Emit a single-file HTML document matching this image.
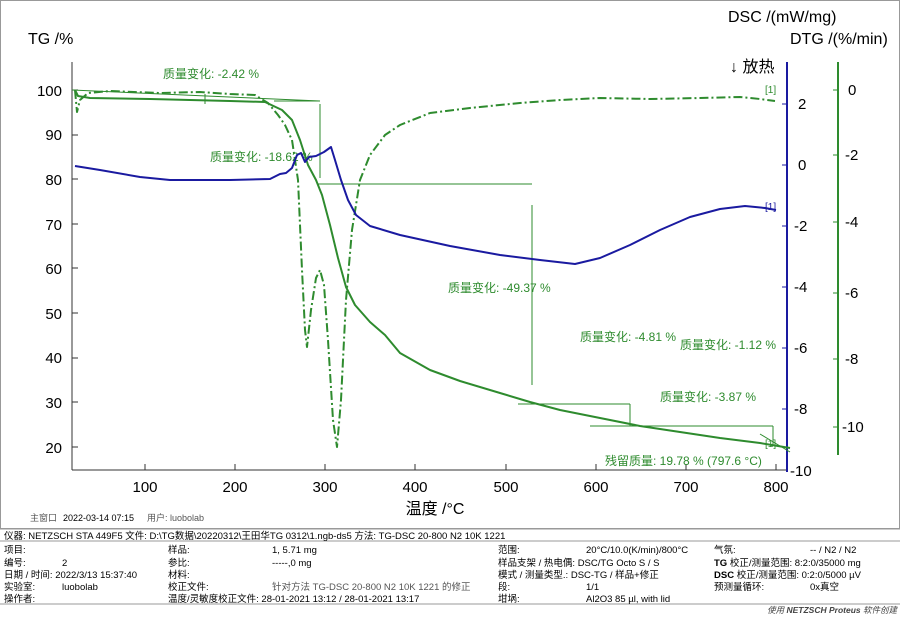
<!DOCTYPE html>
<html><head><meta charset="utf-8"><style>
body{margin:0;background:#fff;}
svg{display:block;font-family:"Liberation Sans","Noto Sans CJK SC",sans-serif;}
</style></head><body>
<svg width="900" height="617" viewBox="0 0 900 617" xmlns="http://www.w3.org/2000/svg">
<rect width="900" height="617" fill="#fff"/>
<rect x="0.5" y="0.5" width="899" height="528" fill="none" stroke="#999"/>
<text x="28" y="44" font-size="16">TG /%</text>
<text x="728" y="22" font-size="16">DSC /(mW/mg)</text>
<text x="790" y="44" font-size="16">DTG /(%/min)</text>
<text x="730" y="72" font-size="16">↓ 放热</text>
<g stroke="#333" stroke-width="1">
<line x1="72" y1="62" x2="72" y2="470"/>
<line x1="72" y1="470" x2="786" y2="470"/>
</g>
<g font-size="15" text-anchor="end" fill="#000">
<text x="62" y="96">100</text><text x="62" y="140">90</text><text x="62" y="185">80</text>
<text x="62" y="230">70</text><text x="62" y="274">60</text><text x="62" y="319">50</text>
<text x="62" y="363">40</text><text x="62" y="408">30</text><text x="62" y="453">20</text>
</g>
<g stroke="#333">
<line x1="72" y1="90" x2="78" y2="90"/><line x1="72" y1="135" x2="78" y2="135"/><line x1="72" y1="179" x2="78" y2="179"/><line x1="72" y1="224" x2="78" y2="224"/><line x1="72" y1="268" x2="78" y2="268"/><line x1="72" y1="313" x2="78" y2="313"/><line x1="72" y1="358" x2="78" y2="358"/><line x1="72" y1="402" x2="78" y2="402"/><line x1="72" y1="447" x2="78" y2="447"/>
<line x1="145" y1="470" x2="145" y2="464"/><line x1="235" y1="470" x2="235" y2="464"/><line x1="325" y1="470" x2="325" y2="464"/><line x1="415" y1="470" x2="415" y2="464"/><line x1="506" y1="470" x2="506" y2="464"/><line x1="596" y1="470" x2="596" y2="464"/><line x1="686" y1="470" x2="686" y2="464"/><line x1="776" y1="470" x2="776" y2="464"/>
</g>
<g font-size="15" text-anchor="middle">
<text x="145" y="492">100</text><text x="235" y="492">200</text><text x="325" y="492">300</text><text x="415" y="492">400</text><text x="506" y="492">500</text><text x="596" y="492">600</text><text x="686" y="492">700</text><text x="776" y="492">800</text>
</g>
<text x="435" y="514" font-size="16" text-anchor="middle">温度 /°C</text>
<line x1="787" y1="62" x2="787" y2="472" stroke="#1a1aa0" stroke-width="2"/>
<g stroke="#1a1aa0"><line x1="787" y1="104" x2="782" y2="104"/><line x1="787" y1="165" x2="782" y2="165"/><line x1="787" y1="226" x2="782" y2="226"/><line x1="787" y1="287" x2="782" y2="287"/><line x1="787" y1="348" x2="782" y2="348"/><line x1="787" y1="409" x2="782" y2="409"/></g>
<g font-size="15" fill="#000">
<text x="798" y="109">2</text><text x="798" y="170">0</text><text x="794" y="231">-2</text><text x="794" y="292">-4</text><text x="794" y="353">-6</text><text x="794" y="414">-8</text><text x="790" y="476">-10</text>
</g>
<line x1="838" y1="62" x2="838" y2="455" stroke="#2e8b2e" stroke-width="2"/>
<g stroke="#2e8b2e"><line x1="838" y1="90" x2="833" y2="90"/><line x1="838" y1="155" x2="833" y2="155"/><line x1="838" y1="222" x2="833" y2="222"/><line x1="838" y1="293" x2="833" y2="293"/><line x1="838" y1="359" x2="833" y2="359"/><line x1="838" y1="427" x2="833" y2="427"/></g>
<g font-size="15" fill="#000">
<text x="848" y="95">0</text><text x="845" y="160">-2</text><text x="845" y="227">-4</text><text x="845" y="298">-6</text><text x="845" y="364">-8</text><text x="842" y="432">-10</text>
</g>
<g stroke="#2e8b2e" stroke-width="1" fill="none">
<line x1="72" y1="90" x2="320" y2="101"/>
<line x1="205" y1="94" x2="205" y2="104"/>
<line x1="274" y1="101" x2="320" y2="101"/>
<line x1="320" y1="104" x2="320" y2="178"/>
<line x1="318" y1="184" x2="532" y2="184"/>
<line x1="532" y1="205" x2="532" y2="385"/>
<line x1="518" y1="404" x2="630" y2="404"/>
<line x1="630" y1="404" x2="630" y2="426"/>
<line x1="590" y1="426" x2="773" y2="426"/>
<line x1="773" y1="426" x2="773" y2="445"/>
<line x1="760" y1="434" x2="790" y2="452"/>
</g>
<g font-size="12" fill="#2e8b2e">
<text x="163" y="78">质量变化: -2.42 %</text>
<text x="210" y="161">质量变化: -18.62 %</text>
<text x="448" y="292">质量变化: -49.37 %</text>
<text x="580" y="341">质量变化: -4.81 %</text>
<text x="680" y="349">质量变化: -1.12 %</text>
<text x="660" y="401">质量变化: -3.87 %</text>
<text x="605" y="465">残留质量: 19.78 % (797.6 °C)</text>
</g>
<text x="765" y="93" font-size="10" fill="#2e8b2e">[1]</text>
<text x="765" y="210" font-size="10" fill="#1a1aa0">[1]</text>
<text x="765" y="447" font-size="10" fill="#2e8b2e">[1]</text>
<path fill="none" stroke="#2e8b2e" stroke-width="2" stroke-dasharray="9,3,2,3" stroke-linejoin="round" d="M75,90 L77,112 L80,100 L88,93 L110,91 L160,93 L200,92 L230,94 L255,95 L268,103 L278,115 L285,125 L292,140 L298,180 L302,270 L305,330 L307,347 L311,310 L316,278 L320,270 L324,285 L328,340 L333,420 L337,447 L341,400 L346,300 L352,230 L360,180 L370,155 L385,135 L400,125 L430,113 L470,108 L520,103 L560,100 L600,98 L650,99 L700,98 L740,97 L760,99 L775,101"/>
<path fill="none" stroke="#2e8b2e" stroke-width="2" stroke-linejoin="round" d="M75,90 L78,96 L90,98 L150,99 L230,101 L265,102 L282,110 L292,120 L300,140 L308,165 L316,180 L322,195 L330,225 L338,258 L346,287 L355,305 L370,322 L385,335 L400,353 L430,370 L460,381 L500,393 L530,402 L560,410 L600,418 L640,426 L680,432 L720,438 L760,443 L790,448"/>
<path fill="none" stroke="#1a1aa0" stroke-width="2" stroke-linejoin="round" d="M75,166 L100,170 L140,177 L170,180 L230,180 L270,179 L280,174 L286,173 L292,168 L297,155 L301,153 L305,162 L309,157 L316,156 L324,152 L331,147 L335,160 L341,180 L348,200 L356,215 L370,226 L400,235 L450,246 L500,255 L540,260 L575,264 L600,258 L630,245 L660,230 L690,217 L720,209 L745,206 L765,208 L776,210"/>
<g font-size="9">
<text x="30" y="521" fill="#555">主窗口</text><text x="63" y="521">2022-03-14 07:15</text><text x="147" y="521" fill="#555">用户: luobolab</text>
</g>
<line x1="0" y1="529" x2="900" y2="529" stroke="#999"/>
<line x1="0" y1="541" x2="900" y2="541" stroke="#999"/>
<line x1="0" y1="604" x2="900" y2="604" stroke="#999"/>
<g font-size="9.5">
<text x="4" y="539">仪器: NETZSCH STA 449F5  文件: D:\TG数据\20220312\王田华TG 0312\1.ngb-ds5  方法: TG-DSC 20-800 N2 10K 1221</text>
<text x="4" y="553">项目:</text><text x="4" y="566">编号:</text><text x="62" y="566">2</text>
<text x="4" y="578">日期 / 时间: 2022/3/13 15:37:40</text><text x="4" y="590">实验室:</text><text x="62" y="590">luobolab</text><text x="4" y="602">操作者:</text>
<text x="168" y="553">样品:</text><text x="272" y="553">1, 5.71 mg</text>
<text x="168" y="566">参比:</text><text x="272" y="566">-----,0 mg</text>
<text x="168" y="578">材料:</text>
<text x="168" y="590">校正文件:</text><text x="272" y="590" fill="#555">针对方法 TG-DSC 20-800 N2 10K 1221 的修正</text>
<text x="168" y="602">温度/灵敏度校正文件: 28-01-2021 13:12 / 28-01-2021 13:17</text>
<text x="498" y="553">范围:</text><text x="586" y="553">20°C/10.0(K/min)/800°C</text>
<text x="498" y="566">样品支架 / 热电偶: DSC/TG Octo S / S</text>
<text x="498" y="578">模式 / 测量类型.:  DSC-TG / 样品+修正</text>
<text x="498" y="590">段:</text><text x="586" y="590">1/1</text>
<text x="498" y="602">坩埚:</text><text x="586" y="602">Al2O3 85 µl, with lid</text>
<text x="714" y="553">气氛:</text><text x="810" y="553">-- / N2 / N2</text>
<text x="714" y="566"><tspan font-weight="bold">TG</tspan> 校正/测量范围: 8:2:0/35000 mg</text>
<text x="714" y="578"><tspan font-weight="bold">DSC</tspan> 校正/测量范围: 0:2:0/5000 µV</text>
<text x="714" y="590">预测量循环:</text><text x="810" y="590">0x真空</text>
</g>
<text x="897" y="613" font-size="8.5" font-style="italic" text-anchor="end" fill="#444">使用 <tspan font-weight="bold">NETZSCH Proteus</tspan> 软件创建</text>
</svg>
</body></html>
